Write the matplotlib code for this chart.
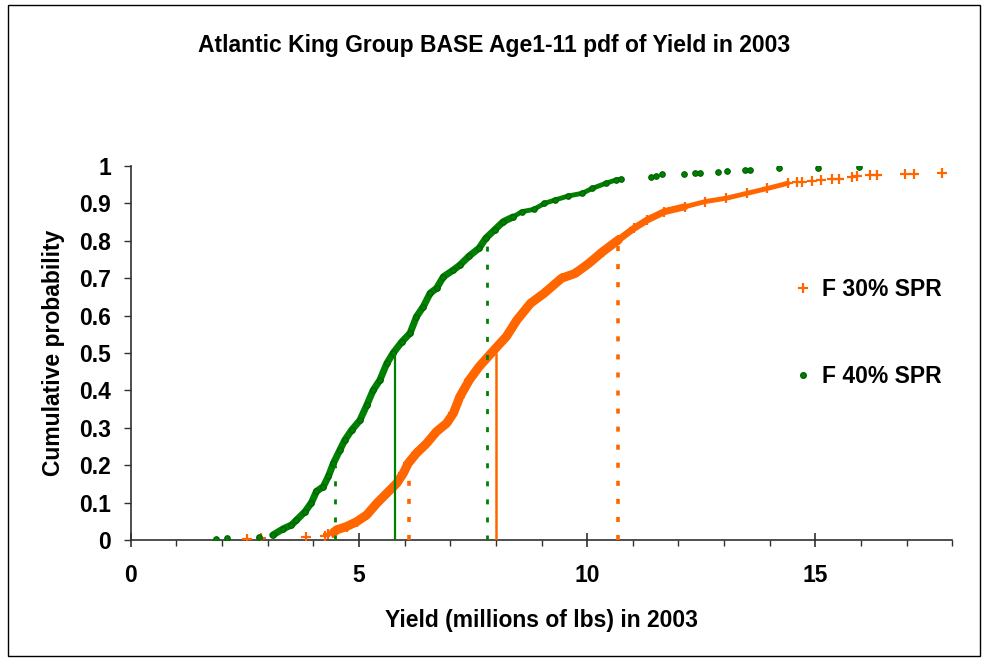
import numpy as np
import matplotlib.pyplot as plt
from matplotlib.lines import Line2D
from matplotlib.patches import Rectangle

plt.rcParams['font.family'] = ['Liberation Sans', 'DejaVu Sans']
plt.rcParams['font.weight'] = 'bold'

# ----------------------------------------------------
# data (yield, cumulative probability)
# ----------------------------------------------------
f40_yield = [1.86, 2.10, 2.81, 3.11, 3.34, 3.52, 3.63, 3.82, 3.96, 4.07, 4.22, 4.33,
             4.44, 4.58, 4.69, 4.84, 5.02, 5.17, 5.31, 5.46, 5.61, 5.75, 5.94, 6.12,
             6.26, 6.41, 6.56, 6.70, 6.85, 7.07, 7.21, 7.42, 7.63, 7.78, 7.97, 8.16,
             8.38, 8.57, 8.83, 9.06, 9.29, 9.59, 9.89, 10.11, 10.41, 10.64, 10.75,
             11.39, 11.50, 11.65, 12.12, 12.37, 12.48, 12.86, 13.06, 13.46, 13.57,
             14.21, 15.06, 15.96]
f40_prob = [0.004, 0.006, 0.008, 0.013, 0.030, 0.040, 0.053, 0.076, 0.100, 0.130, 0.143, 0.170,
            0.205, 0.240, 0.267, 0.294, 0.320, 0.360, 0.400, 0.428, 0.472, 0.500, 0.530, 0.553,
            0.597, 0.624, 0.660, 0.673, 0.704, 0.722, 0.735, 0.760, 0.780, 0.807, 0.829, 0.851,
            0.864, 0.878, 0.884, 0.900, 0.909, 0.920, 0.927, 0.940, 0.954, 0.963, 0.965,
            0.971, 0.974, 0.978, 0.978, 0.980, 0.981, 0.985, 0.986, 0.989, 0.990,
            0.994, 0.994, 0.998]

f30_yield = [2.54, 2.86, 3.84, 4.26, 4.33, 4.44, 4.51, 4.73, 4.95, 5.17, 5.39, 5.61,
             5.83, 5.97, 6.08, 6.26, 6.48, 6.70, 6.92, 7.07, 7.21, 7.42, 7.63, 7.93,
             8.23, 8.46, 8.76, 9.06, 9.44, 9.74, 10.04, 10.34, 10.68, 11.02, 11.32,
             11.69, 12.14, 12.59, 13.05, 13.50, 13.95, 14.40, 14.60, 14.70, 14.93,
             15.12, 15.37, 15.52, 15.80, 15.91, 16.20, 16.36, 16.96, 17.16, 17.78]
f30_prob = [0.004, 0.006, 0.008, 0.012, 0.016, 0.020, 0.027, 0.036, 0.049, 0.067, 0.098, 0.125,
            0.152, 0.178, 0.205, 0.232, 0.258, 0.290, 0.312, 0.339, 0.383, 0.428, 0.463, 0.504,
            0.544, 0.588, 0.633, 0.660, 0.700, 0.713, 0.740, 0.771, 0.802, 0.833, 0.856,
            0.878, 0.891, 0.905, 0.914, 0.927, 0.940, 0.954, 0.956, 0.958, 0.961,
            0.963, 0.965, 0.966, 0.970, 0.972, 0.975, 0.977, 0.978, 0.979, 0.982]

# 20th, 50th, 80th percentiles
f40_pct = [4.47, 5.80, 7.80]
f30_pct = [6.09, 8.01, 10.68]
pct_levels = [0.2, 0.5, 0.8]

x_ticks = [0, 5, 10, 15]
y_ticks = [0, 0.1, 0.2, 0.3, 0.4, 0.5, 0.6, 0.7, 0.8, 0.9, 1]
y_labels = ['0', '0.1', '0.2', '0.3', '0.4', '0.5', '0.6', '0.7', '0.8', '0.9', '1']

GREEN = '#008000'
ORANGE = '#FF6600'
FS = 16.5

# ----------------------------------------------------
# figure
# ----------------------------------------------------
fig = plt.figure(figsize=(9.88, 6.63), dpi=100)
ax = fig.add_axes([0.1323, 0.1855, 0.8316, 0.5641])

gx = np.array(f40_yield); gp = np.array(f40_prob)
ox = np.array(f30_yield); op = np.array(f30_prob)

# dense parts of the curves, where the markers merge into a band
gb = (gx >= 3.0) & (gx <= 8.4)
gb2 = (gx >= 8.3) & (gx <= 10.8)
ob = (ox >= 4.4) & (ox <= 11.0)
ob2 = (ox >= 10.6) & (ox <= 12.2)
ob3 = (ox >= 12.1) & (ox <= 14.4)
ax.plot(gx[gb], gp[gb], color=GREEN, lw=5, solid_capstyle='round', zorder=2)
ax.plot(gx[gb2], gp[gb2], color=GREEN, lw=3.5, solid_capstyle='round', zorder=2)
ax.plot(ox[ob], op[ob], color=ORANGE, lw=6.5, solid_capstyle='round', zorder=2)
ax.plot(ox[ob2], op[ob2], color=ORANGE, lw=5, solid_capstyle='round', zorder=2)
ax.plot(ox[ob3], op[ob3], color=ORANGE, lw=3.5, solid_capstyle='round', zorder=2)

ax.plot(ox, op, '+', color=ORANGE, ms=7.5, mew=1.6, zorder=3)
ax.plot(gx, gp, 'o', color=GREEN, mec='#006000', ms=4, mew=0.8, zorder=3)

# percentile lines
for x, lev in zip(f40_pct, pct_levels):
    if lev == 0.5:
        ax.vlines(x, 0, lev, color=GREEN, lw=1.6, zorder=4)
    else:
        ax.vlines(x, 0, lev, color=GREEN, lw=2.0, linestyles=(0, (1.8, 4.7)), zorder=4)
for x, lev in zip(f30_pct, pct_levels):
    if lev == 0.5:
        ax.vlines(x, 0, lev, color=ORANGE, lw=1.8, zorder=4)
    else:
        ax.vlines(x, 0, lev, color=ORANGE, lw=2.6, linestyles=(0, (1.4, 3.6)), zorder=4)

ax.set_xlim(0, 18)
ax.set_ylim(0, 1)
ax.set_xticks(x_ticks)
ax.set_xticks(np.arange(0, 19, 1), minor=True)
ax.set_yticks(y_ticks)
ax.set_yticklabels(y_labels)

for s in ['top', 'right']:
    ax.spines[s].set_visible(False)
for s in ['left', 'bottom']:
    ax.spines[s].set_color('#303030')
    ax.spines[s].set_linewidth(1.2)

ax.tick_params(axis='x', which='major', direction='inout', length=10, width=1.2,
               labelsize=FS, pad=12, color='#303030')
ax.tick_params(axis='x', which='minor', direction='out', length=4, width=1.0, color='#303030')
ax.tick_params(axis='y', which='major', direction='out', length=5, width=1.0,
               labelsize=FS, pad=9, color='#303030')

ax.set_xlabel('Yield (millions of lbs) in 2003', fontsize=FS, fontweight='bold', labelpad=16)
ax.set_ylabel('Cumulative probability', fontsize=FS, fontweight='bold', labelpad=10)
fig.text(0.5, 0.932, 'Atlantic King Group BASE Age1-11 pdf of Yield in 2003',
         ha='center', va='center', fontsize=FS, fontweight='bold')

handles = [Line2D([], [], ls='none', marker='+', color=ORANGE, ms=7, mew=1.6),
           Line2D([], [], ls='none', marker='o', color=GREEN, mec='#006000', ms=4)]
ax.legend(handles, ['F 30% SPR', 'F 40% SPR'], loc='upper left',
          bbox_to_anchor=(0.797, 0.595), bbox_transform=fig.transFigure,
          frameon=False, fontsize=FS, handlelength=0.6, handletextpad=0.5,
          labelspacing=2.8, borderaxespad=0)

fig.patches.append(Rectangle((0.008, 0.011), 0.984, 0.982, transform=fig.transFigure,
                             fill=False, edgecolor='black', lw=1.0))

fig.savefig('out.png', dpi=100)
